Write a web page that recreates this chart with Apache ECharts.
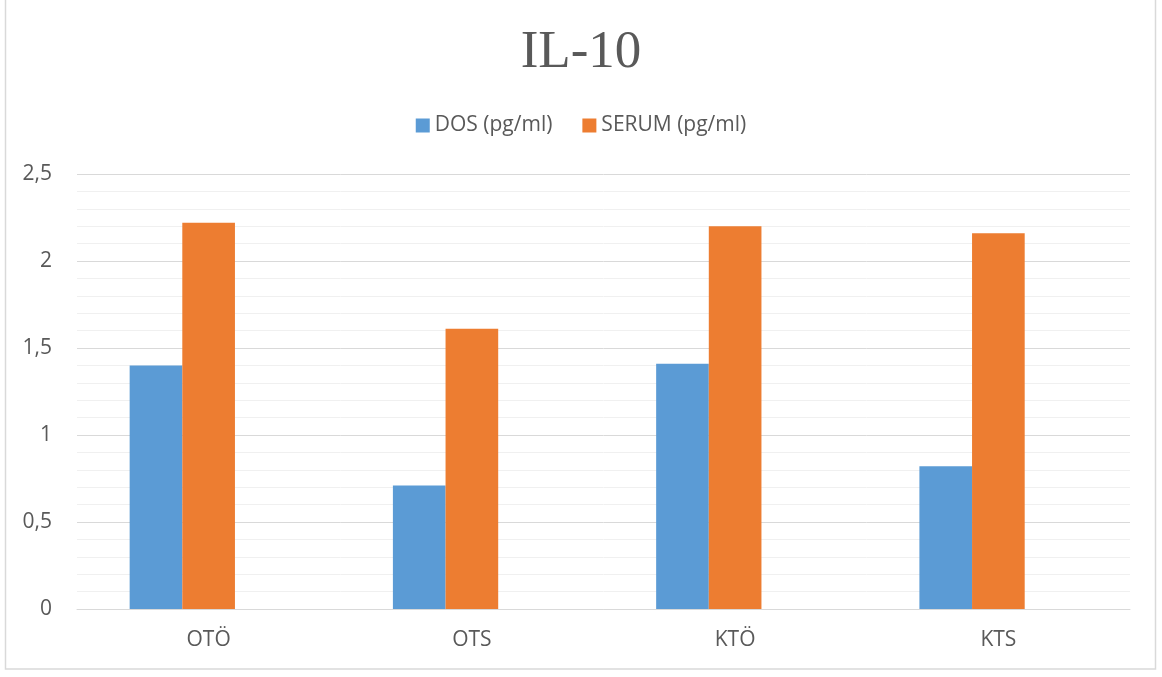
<!DOCTYPE html>
<html>
<head>
<meta charset="utf-8">
<script src="https://cdn.jsdelivr.net/npm/echarts@6/dist/echarts.min.js"></script>
<style>
  html, body { margin: 0; padding: 0; background: #fff; }
  #chart { width: 1162px; height: 677px; }
</style>
</head>
<body>
<div id="chart"></div>
<script>
// IL-10 levels per group
const categories = ['OTÖ', 'OTS', 'KTÖ', 'KTS'];
const dosValues = [1.40, 0.71, 1.41, 0.82];
const serumValues = [2.22, 1.61, 2.20, 2.16];
const seriesNames = ['DOS (pg/ml)', 'SERUM (pg/ml)'];
const yTickLabels = { 0: '0', 0.5: '0,5', 1: '1', 1.5: '1,5', 2: '2', 2.5: '2,5' };

const chart = echarts.init(document.getElementById('chart'));
const textColor = '#595959';
const uiFont = '"Open Sans", "Noto Sans", sans-serif';

chart.setOption({
  animation: false,
  title: {
    text: 'IL-10',
    left: 'center',
    top: 22,
    textStyle: {
      fontFamily: '"Liberation Serif", "DejaVu Serif", serif',
      fontSize: 53,
      fontWeight: 'normal',
      color: textColor
    }
  },
  legend: {
    top: 110,
    left: 'center',
    itemWidth: 14,
    itemHeight: 14,
    itemGap: 30,
    icon: 'rect',
    textStyle: { fontFamily: uiFont, fontSize: 21, color: textColor },
    data: seriesNames
  },
  grid: { left: 77, right: 32, top: 174, bottom: 68, containLabel: false },
  xAxis: {
    type: 'category',
    data: categories,
    axisLine: { lineStyle: { color: '#d9d9d9', width: 1 } },
    axisTick: { show: false },
    axisLabel: { margin: 21, fontFamily: uiFont, fontSize: 21, color: textColor }
  },
  yAxis: {
    type: 'value',
    min: 0,
    max: 2.5,
    interval: 0.5,
    axisLine: { show: false },
    axisTick: { show: false },
    axisLabel: {
      margin: 25,
      fontFamily: uiFont,
      fontSize: 21,
      color: textColor,
      formatter: v => yTickLabels[v] !== undefined ? yTickLabels[v] : String(v).replace('.', ',')
    },
    splitLine: { lineStyle: { color: '#d9d9d9', width: 1 } },
    minorTick: { show: false, splitNumber: 5 },
    minorSplitLine: { show: true, lineStyle: { color: '#f0f0f0', width: 1 } }
  },
  series: [
    {
      name: seriesNames[0],
      type: 'bar',
      data: dosValues,
      barGap: '0%',
      barCategoryGap: '40%',
      itemStyle: { color: '#5b9bd5' }
    },
    {
      name: seriesNames[1],
      type: 'bar',
      data: serumValues,
      barGap: '0%',
      barCategoryGap: '40%',
      itemStyle: { color: '#ed7d31' }
    },
    {
      // empty third slot in each group, keeps the pair left of the label
      name: '',
      type: 'bar',
      data: categories.map(() => null),
      barGap: '0%',
      barCategoryGap: '40%',
      itemStyle: { color: 'transparent' }
    }
  ],
  graphic: [
    {
      type: 'rect',
      shape: { x: 5.5, y: -1, width: 1150, height: 670 },
      style: { fill: 'none', stroke: '#d9d9d9', lineWidth: 1.5 },
      silent: true
    }
  ]
});
</script>
</body>
</html>
